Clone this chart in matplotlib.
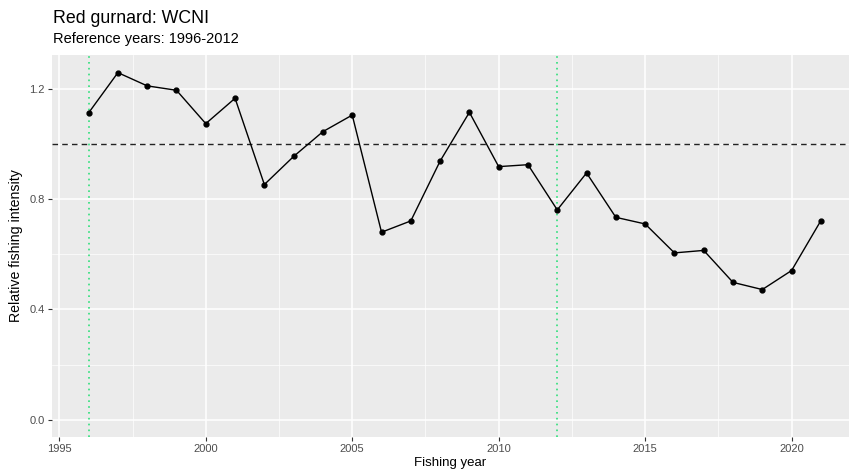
import numpy as np
import matplotlib.pyplot as plt
from matplotlib.ticker import MultipleLocator

plt.rcParams['font.family'] = ['Liberation Sans', 'DejaVu Sans']

years = list(range(1996, 2022))
intensity = [1.113, 1.259, 1.211, 1.195, 1.074, 1.166, 0.853, 0.955, 1.045, 1.105,
             0.680, 0.721, 0.938, 1.115, 0.918, 0.925, 0.761, 0.895, 0.734, 0.710,
             0.605, 0.614, 0.498, 0.472, 0.541, 0.722]
ref_years = [1996, 2012]
ref_level = 1.0

fig = plt.figure(figsize=(8.49, 4.73), dpi=100)
ax = fig.add_axes([52 / 849, 1 - 437 / 473, 1 - 52 / 849, (437 - 55) / 473])

# ggplot-style grey panel
ax.set_facecolor('#EBEBEB')
for s in ax.spines.values():
    s.set_visible(False)
ax.xaxis.set_major_locator(MultipleLocator(5))
ax.xaxis.set_minor_locator(MultipleLocator(2.5))
ax.yaxis.set_major_locator(MultipleLocator(0.4))
ax.yaxis.set_minor_locator(MultipleLocator(0.2))
ax.grid(which='major', color='white', linewidth=1.1)
ax.grid(which='minor', color='white', linewidth=0.5)
ax.set_axisbelow(True)
ax.tick_params(which='major', length=3, width=0.8, color='#333333',
               labelcolor='#4D4D4D', labelsize=8, pad=2)
ax.tick_params(which='minor', length=0)
ax.set_yticks([0.0, 0.4, 0.8, 1.2])
ax.set_yticklabels(['0.0', '0.4', '0.8', '1.2'])

for yr in ref_years:
    ax.axvline(yr, color='#2EE07A', linestyle=(0, (1, 2.5)), linewidth=1.2)
ax.axhline(ref_level, color='#222222', linestyle=(0, (4, 3)), linewidth=1.0)

ax.plot(years, intensity, color='black', linewidth=1.0, marker='o', markersize=3.5)

ax.set_xlim(1994.75, 2021.96)
ax.set_ylim(-0.063, 1.323)

ax.set_xlabel('Fishing year', fontsize=9.5, labelpad=2)
ax.set_ylabel('Relative fishing intensity', fontsize=10.2, labelpad=5)

fig.text(53 / 849, 1 - 23 / 473, 'Red gurnard: WCNI', fontsize=12.8, va='baseline', ha='left')
fig.text(53 / 849, 1 - 43 / 473, 'Reference years: 1996-2012', fontsize=10.5, va='baseline', ha='left')

fig.savefig('out.png', dpi=100)
